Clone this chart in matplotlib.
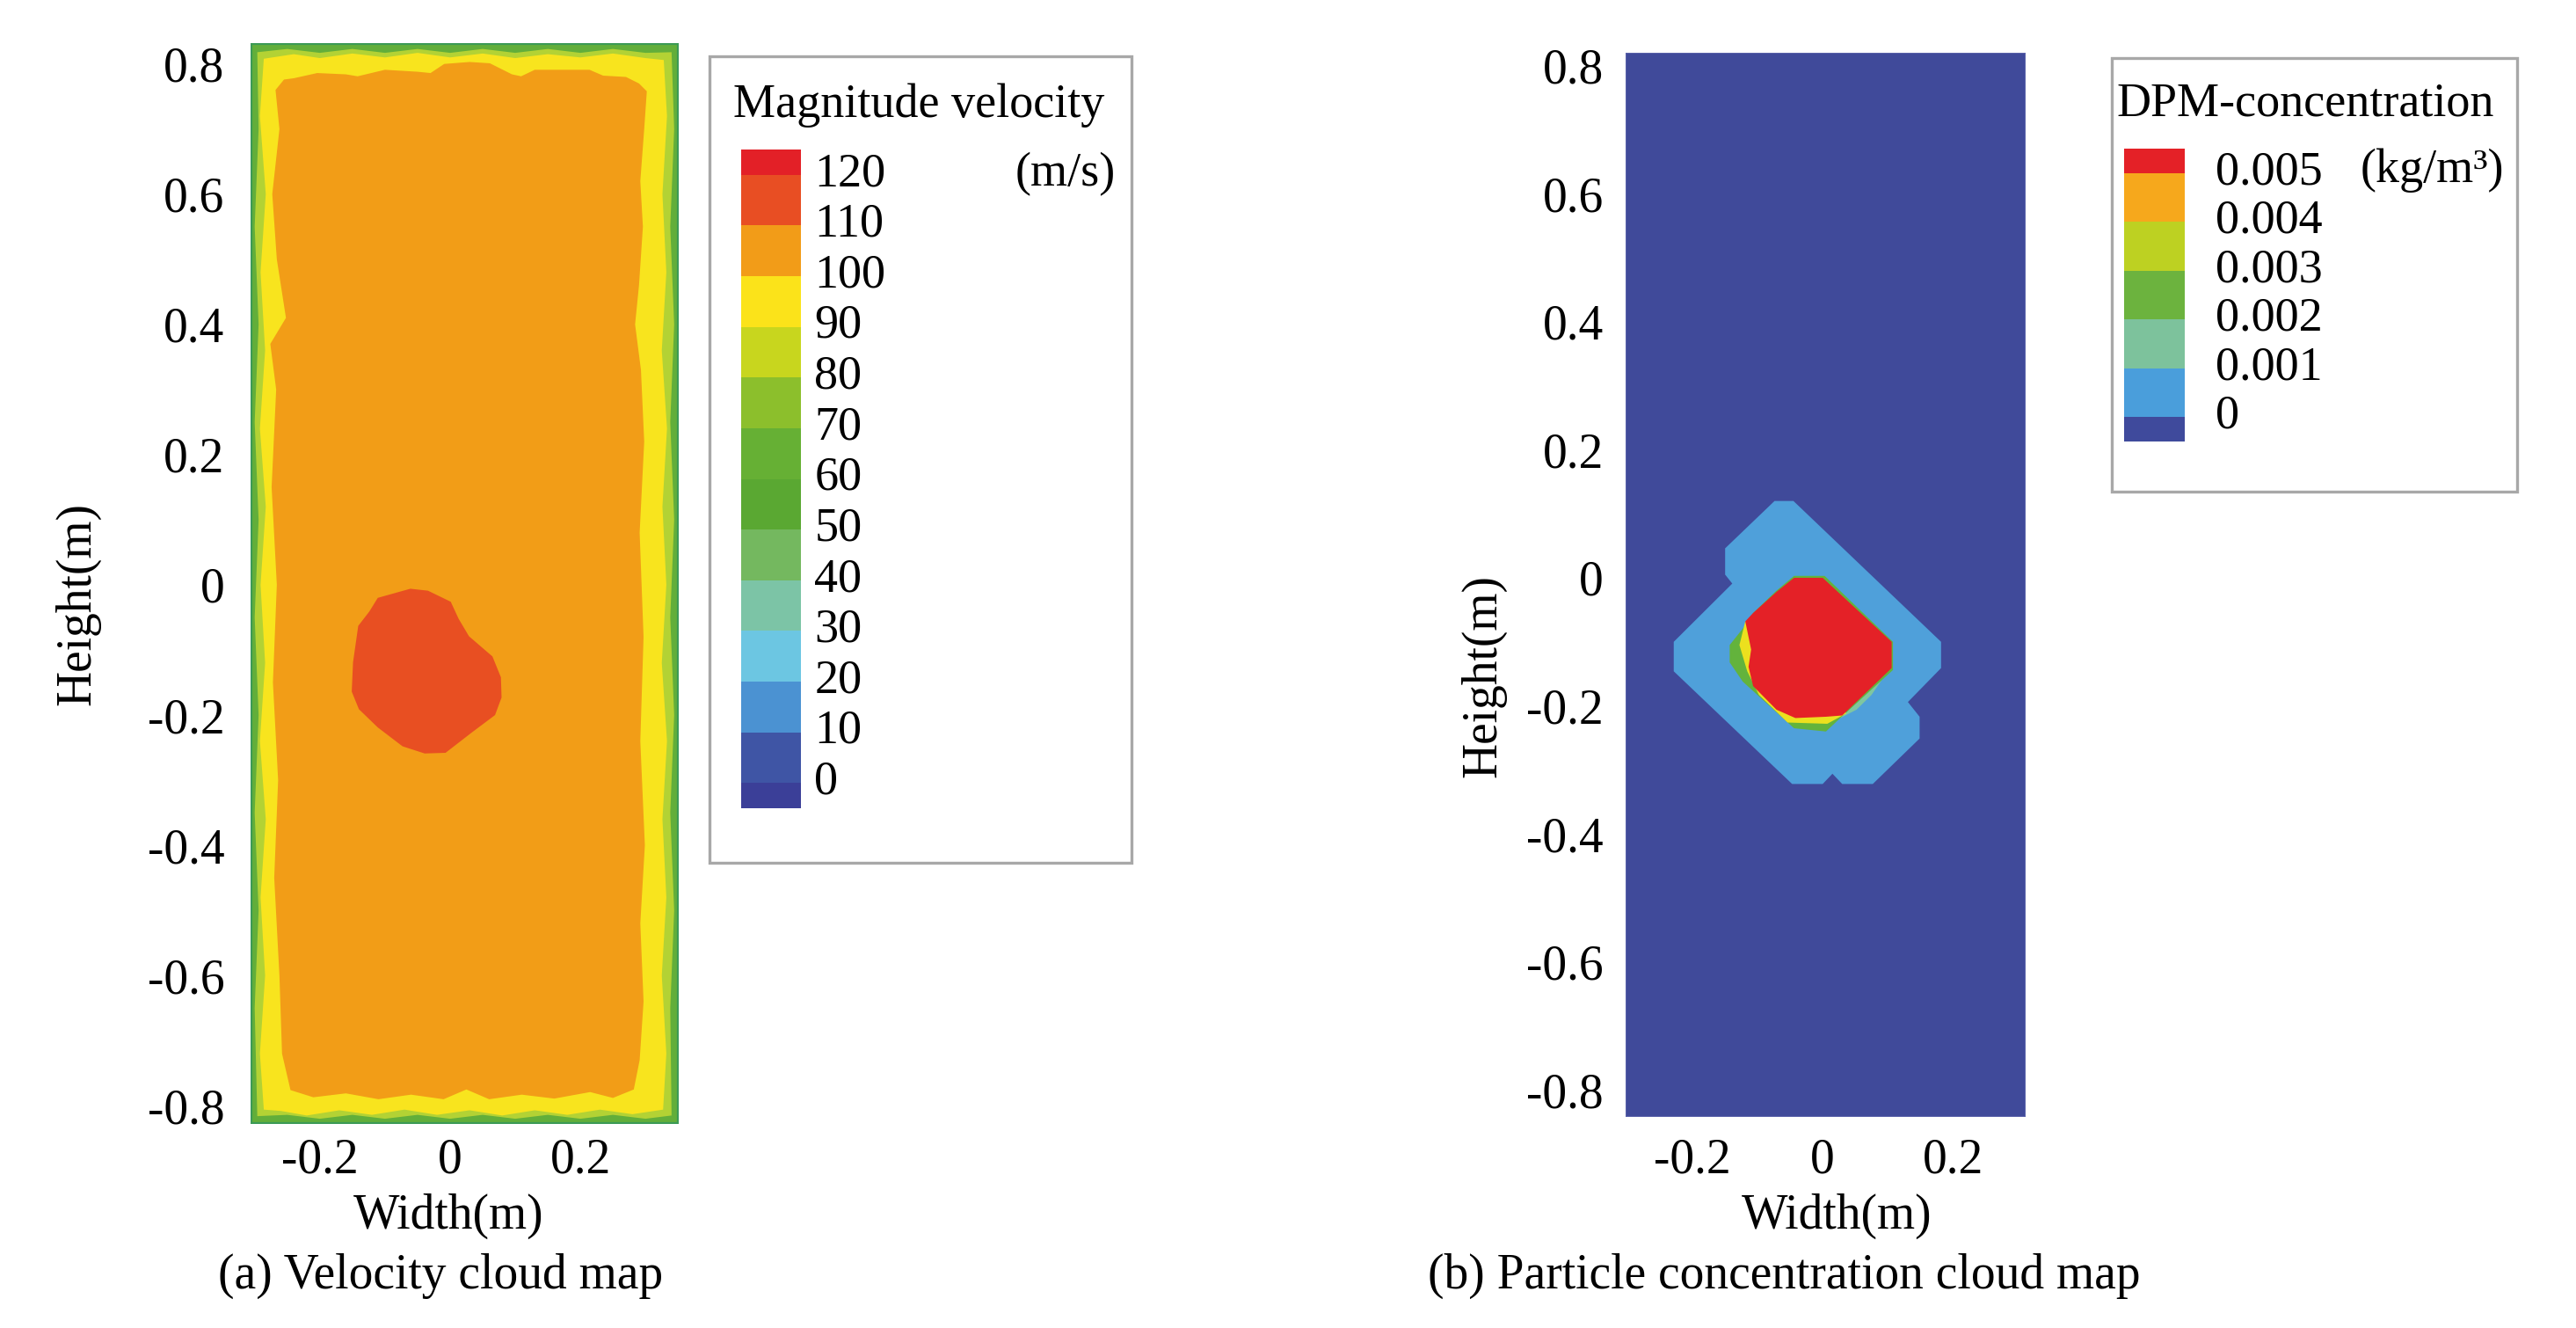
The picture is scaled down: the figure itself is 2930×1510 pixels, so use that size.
import matplotlib
matplotlib.use('Agg')
import matplotlib.pyplot as plt
from matplotlib.patches import Rectangle
from matplotlib.transforms import ScaledTranslation

plt.rcParams['font.family'] = 'Liberation Serif'
plt.rcParams['axes.unicode_minus'] = False

W, H = 2930, 1510


def fx(px):
    return px / W


def fy(py):
    return 1 - py / H


# ---------------- data ----------------
y_ticks = [0.8, 0.6, 0.4, 0.2, 0, -0.2, -0.4, -0.6, -0.8]
y_labels = ['0.8', '0.6', '0.4', '0.2', '0', '-0.2', '-0.4', '-0.6', '-0.8']
x_ticks = [-0.2, 0, 0.2]
x_labels = ['-0.2', '0', '0.2']

# (a) velocity field, region outlines in metres
vel_box_x = [-0.307, 0.351]
vel_box_y = [-0.828, 0.832]

vel_80_outline = [  # edge of the 80-90 band
    (-0.296, 0.818), (-0.25, 0.823), (-0.20, 0.817), (-0.15, 0.823), (-0.10, 0.817),
    (-0.05, 0.823), (0.0, 0.817), (0.05, 0.823), (0.10, 0.817), (0.15, 0.823),
    (0.20, 0.817), (0.25, 0.823), (0.30, 0.817), (0.340, 0.818),
    (0.344, 0.70), (0.338, 0.55), (0.344, 0.40), (0.338, 0.25), (0.344, 0.10),
    (0.338, -0.05), (0.344, -0.20), (0.338, -0.35), (0.344, -0.50), (0.338, -0.65),
    (0.340, -0.815),
    (0.30, -0.820), (0.25, -0.814), (0.20, -0.820), (0.15, -0.814), (0.10, -0.820),
    (0.05, -0.814), (0.0, -0.820), (-0.05, -0.814), (-0.10, -0.820), (-0.15, -0.814),
    (-0.20, -0.820), (-0.25, -0.814), (-0.296, -0.816),
    (-0.300, -0.65), (-0.294, -0.50), (-0.300, -0.35), (-0.294, -0.20), (-0.300, -0.05),
    (-0.294, 0.10), (-0.300, 0.25), (-0.294, 0.40), (-0.300, 0.55), (-0.294, 0.70),
]

vel_90_outline = [  # edge of the 90-100 band
    (-0.286, 0.808), (-0.24, 0.815), (-0.20, 0.809), (-0.15, 0.816), (-0.10, 0.810),
    (-0.05, 0.817), (0.0, 0.810), (0.05, 0.816), (0.10, 0.809), (0.15, 0.815),
    (0.20, 0.810), (0.25, 0.816), (0.30, 0.809), (0.328, 0.806),
    (0.333, 0.72), (0.326, 0.60), (0.332, 0.48), (0.325, 0.36), (0.333, 0.24),
    (0.326, 0.12), (0.332, 0.0), (0.325, -0.12), (0.333, -0.24), (0.326, -0.36),
    (0.332, -0.48), (0.325, -0.60), (0.332, -0.72), (0.327, -0.806),
    (0.28, -0.813), (0.23, -0.806), (0.18, -0.814), (0.13, -0.807), (0.08, -0.815),
    (0.03, -0.807), (-0.02, -0.814), (-0.07, -0.806), (-0.12, -0.814), (-0.17, -0.807),
    (-0.22, -0.815), (-0.26, -0.808), (-0.286, -0.806),
    (-0.292, -0.72), (-0.284, -0.60), (-0.291, -0.48), (-0.283, -0.36), (-0.292, -0.24),
    (-0.284, -0.12), (-0.291, 0.0), (-0.283, 0.12), (-0.292, 0.24), (-0.284, 0.36),
    (-0.291, 0.48), (-0.283, 0.60), (-0.292, 0.72),
]

vel_100_outline = [  # main core, 100-110 m/s
    (-0.268, 0.760), (-0.255, 0.776), (-0.240, 0.778), (-0.204, 0.786), (-0.160, 0.784),
    (-0.142, 0.781), (-0.100, 0.791), (-0.050, 0.788), (-0.030, 0.786), (-0.009, 0.800),
    (0.030, 0.803), (0.061, 0.801), (0.095, 0.784), (0.109, 0.781), (0.130, 0.791),
    (0.214, 0.791), (0.235, 0.782), (0.270, 0.780), (0.290, 0.770), (0.302, 0.758),
    (0.298, 0.70), (0.292, 0.62), (0.296, 0.55), (0.290, 0.46), (0.284, 0.40),
    (0.293, 0.33), (0.298, 0.22), (0.291, 0.08), (0.297, -0.08), (0.292, -0.24),
    (0.299, -0.40), (0.292, -0.52), (0.297, -0.64), (0.291, -0.73), (0.282, -0.775),
    (0.250, -0.788), (0.215, -0.779), (0.160, -0.789), (0.110, -0.783), (0.060, -0.790),
    (0.025, -0.775), (-0.010, -0.790), (-0.060, -0.783), (-0.110, -0.790), (-0.160, -0.781),
    (-0.210, -0.787), (-0.245, -0.776),
    (-0.258, -0.72), (-0.262, -0.60), (-0.270, -0.45), (-0.264, -0.30), (-0.272, -0.15),
    (-0.266, 0.0), (-0.274, 0.15), (-0.267, 0.30), (-0.276, 0.37), (-0.252, 0.41),
    (-0.266, 0.50), (-0.273, 0.60), (-0.262, 0.70),
]

vel_110_outline = [  # jet spot, 110-120 m/s
    (-0.061, -0.006), (-0.034, -0.009), (0.001, -0.026), (0.013, -0.052), (0.029, -0.079),
    (0.065, -0.110), (0.078, -0.142), (0.079, -0.173), (0.069, -0.200), (0.033, -0.227),
    (-0.007, -0.258), (-0.039, -0.259), (-0.073, -0.248), (-0.111, -0.219), (-0.140, -0.191),
    (-0.151, -0.164), (-0.149, -0.119), (-0.141, -0.063), (-0.124, -0.041), (-0.111, -0.020),
]

vel_bounds = [-5, 0, 10, 20, 30, 40, 50, 60, 70, 80, 90, 100, 110, 120, 125]
vel_colors = ['#3b3f98', '#3f55a5', '#4b92d2', '#6cc6e2', '#7cc4a6', '#74b85f', '#5aa832',
              '#66b034', '#8cbf2c', '#c8d61e', '#fbe31a', '#f29c18', '#e84e23', '#e32027']
vel_ticks = [120, 110, 100, 90, 80, 70, 60, 50, 40, 30, 20, 10, 0]
vel_tick_labels = ['120', '110', '100', '90', '80', '70', '60', '50', '40', '30', '20', '10', '0']

# (b) particle concentration, region outlines in metres
dpm_box_x = [-0.303, 0.312]
dpm_box_y = [-0.842, 0.820]

dpm_001_outline = [
    (-0.074, 0.120), (-0.045, 0.120), (0.182, -0.100), (0.182, -0.141), (0.131, -0.194),
    (0.149, -0.217), (0.149, -0.251), (0.077, -0.322), (0.030, -0.322), (0.015, -0.306),
    (0.0, -0.322), (-0.047, -0.322), (-0.229, -0.146), (-0.229, -0.100), (-0.139, -0.009),
    (-0.150, 0.005), (-0.150, 0.046),
]
dpm_teal_outline = [
    (0.106, -0.137), (0.075, -0.183), (0.052, -0.206), (0.027, -0.219), (0.036, -0.151),
]
dpm_002_outline = [
    (-0.044, 0.003), (0.003, 0.003), (0.108, -0.100), (0.108, -0.144), (0.027, -0.219),
    (0.005, -0.240), (-0.044, -0.235), (-0.071, -0.210), (-0.123, -0.162), (-0.143, -0.132),
    (-0.143, -0.105), (-0.121, -0.077), (-0.107, -0.055), (-0.071, -0.020),
]
dpm_004_outline = [
    (-0.119, -0.068), (-0.128, -0.105), (-0.116, -0.146), (-0.098, -0.183), (-0.054, -0.226),
    (0.007, -0.228), (0.036, -0.212), (-0.008, -0.105),
]
dpm_005_outline = [
    (-0.044, 0.0), (0.0, 0.0), (0.106, -0.100), (0.106, -0.141), (0.030, -0.215),
    (0.005, -0.217), (-0.042, -0.219), (-0.071, -0.206), (-0.107, -0.169), (-0.114, -0.139),
    (-0.110, -0.112), (-0.119, -0.068), (-0.107, -0.055), (-0.071, -0.022),
]

dpm_bounds = [-0.0005, 0, 0.001, 0.002, 0.003, 0.004, 0.005, 0.0055]
dpm_colors = ['#3f4a9c', '#4a9edb', '#7dc29c', '#6cb33e', '#bdd122', '#f6a81c', '#e42127']
dpm_ticks = [0.005, 0.004, 0.003, 0.002, 0.001, 0]
dpm_tick_labels = ['0.005', '0.004', '0.003', '0.002', '0.001', '0']


def fill_region(ax, pts, color):
    xs, ys = zip(*pts)
    ax.fill(xs, ys, color=color, lw=0)


def style_axes(ax, xlim, ylim, ypad, xpad):
    ax.set_xlim(xlim)
    ax.set_ylim(ylim)
    ax.set_xticks(x_ticks)
    ax.set_xticklabels(x_labels)
    ax.set_yticks(y_ticks)
    ax.set_yticklabels(y_labels)
    ax.tick_params(axis='both', length=0, labelsize=40)
    ax.tick_params(axis='y', pad=ypad)
    ax.tick_params(axis='x', pad=xpad)
    for s in ax.spines.values():
        s.set_visible(False)


def draw_bar(cax, bounds, colors, ticks, labels, pad):
    for lo, hi, c in zip(bounds[:-1], bounds[1:], colors):
        cax.bar(0, hi - lo, bottom=lo, width=1, color=c, lw=0)
    cax.set_xlim(-0.5, 0.5)
    cax.set_ylim(bounds[0], bounds[-1])
    cax.set_xticks([])
    cax.yaxis.tick_right()
    cax.set_yticks(ticks)
    cax.set_yticklabels(labels)
    cax.tick_params(axis='y', length=0, pad=pad, labelsize=39)
    # labels sit a little above the block edges in the original
    lift = ScaledTranslation(0, 5 / 72, fig.dpi_scale_trans)
    for lab in cax.get_yticklabels():
        lab.set_transform(lab.get_transform() + lift)
    cax.patch.set_alpha(0)
    for s in cax.spines.values():
        s.set_visible(False)


def legend_box(x0, y0, x1, y1):
    fig.patches.append(Rectangle((fx(x0), fy(y1)), (x1 - x0) / W, (y1 - y0) / H,
                                 transform=fig.transFigure, fc='none', ec='#a8a8a8',
                                 lw=2.4, zorder=-1))


fig = plt.figure(figsize=(29.3, 15.1), dpi=100)

# ---------------- (a) velocity cloud map ----------------
ax_a = fig.add_axes([fx(284.5), fy(1278), (772 - 284.5) / W, (1278 - 49) / H])
ax_a.add_patch(Rectangle((vel_box_x[0], vel_box_y[0]), vel_box_x[1] - vel_box_x[0],
                         vel_box_y[1] - vel_box_y[0], fc='#62ae3a', ec='#3c9a56', lw=3))
fill_region(ax_a, vel_80_outline, '#b3d234')
fill_region(ax_a, vel_90_outline, '#f8e41e')
fill_region(ax_a, vel_100_outline, '#f29d17')
fill_region(ax_a, vel_110_outline, '#e84f22')
style_axes(ax_a, vel_box_x, vel_box_y, ypad=21, xpad=11.5)

legend_box(807, 64, 1287, 981)
cax_a = fig.add_axes([fx(843), fy(919), (911 - 843) / W, (919 - 170) / H])
draw_bar(cax_a, vel_bounds, vel_colors, vel_ticks, vel_tick_labels, pad=11)
fig.text(fx(834), fy(133), 'Magnitude velocity', fontsize=39, ha='left', va='baseline')
fig.text(fx(1269), fy(211), '(m/s)', fontsize=39, ha='right', va='baseline')

fig.text(fx(88), fy(687), 'Height(m)', fontsize=40, rotation=90, ha='center', va='center')
fig.text(fx(510), fy(1397), 'Width(m)', fontsize=40, ha='center', va='baseline')
fig.text(fx(501), fy(1465), '(a) Velocity cloud map', fontsize=40, ha='center', va='baseline')

# ---------------- (b) particle concentration cloud map ----------------
ax_b = fig.add_axes([fx(1849), fy(1270), (2304 - 1849) / W, (1270 - 60) / H])
ax_b.add_patch(Rectangle((dpm_box_x[0], dpm_box_y[0]), dpm_box_x[1] - dpm_box_x[0],
                         dpm_box_y[1] - dpm_box_y[0], fc='#404a9a', ec='#5a62aa', lw=1.5))
fill_region(ax_b, dpm_001_outline, '#4fa0da')
fill_region(ax_b, dpm_teal_outline, '#7fc6a0')
fill_region(ax_b, dpm_002_outline, '#63b33c')
fill_region(ax_b, dpm_004_outline, '#ece01e')
fill_region(ax_b, dpm_005_outline, '#e42127')
style_axes(ax_b, dpm_box_x, dpm_box_y, ypad=18, xpad=17)

legend_box(2402, 66, 2863, 559)
cax_b = fig.add_axes([fx(2416), fy(502), (2485 - 2416) / W, (502 - 169) / H])
draw_bar(cax_b, dpm_bounds, dpm_colors, dpm_ticks, dpm_tick_labels, pad=25)
fig.text(fx(2407), fy(132), 'DPM-concentration', fontsize=39, ha='left', va='baseline')
fig.text(fx(2848), fy(207), '(kg/m³)', fontsize=39, ha='right', va='baseline')

fig.text(fx(1687), fy(768), 'Height(m)', fontsize=40, rotation=90, ha='center', va='center')
fig.text(fx(2089), fy(1397), 'Width(m)', fontsize=40, ha='center', va='baseline')
fig.text(fx(2029), fy(1465), '(b) Particle concentration cloud map', fontsize=40,
         ha='center', va='baseline')

fig.savefig('out.png', dpi=100)
